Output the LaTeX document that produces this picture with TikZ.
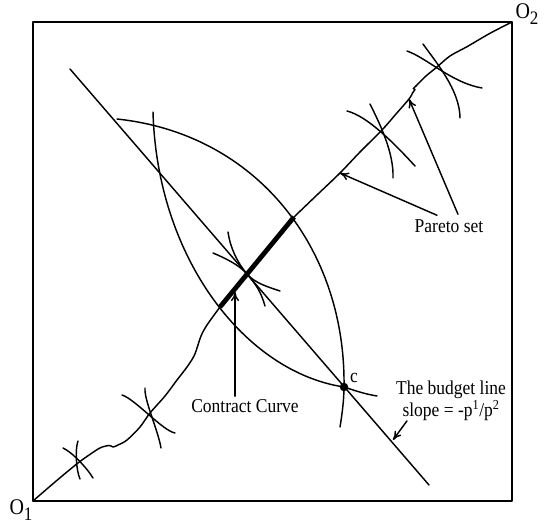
\documentclass[tikz,border=0pt]{standalone}
\usepackage{fontspec}
\setmainfont{Liberation Serif}
\usetikzlibrary{arrows.meta}
\newcommand{\osub}[1]{{\fontsize{20}{20}\selectfont O}\raisebox{-5pt}{\fontsize{17}{17}\selectfont #1}}
\begin{document}
\begin{tikzpicture}[x=1pt,y=-1pt, line cap=round, line join=round,
  curve/.style={line width=1.45pt},
  frame/.style={line width=1.6pt},
  thickline/.style={line width=4.8pt, line cap=butt},
  arr/.style={line width=1.45pt, -{To[length=9pt,width=8pt]}},
  lbl/.style={font=\fontsize{17.5}{16.5}\selectfont, inner sep=0pt, yscale=1.12, transform shape},
  dot/.style={circle, fill=black, inner sep=0pt, minimum size=8.5pt}]
\useasboundingbox (0,0) rectangle (544,525);
% box
\coordinate (O1) at (33,501);
\coordinate (O2) at (512,22);
\draw[frame] (O1) rectangle (O2);
\node[lbl] (o1lab) at (21,510) {\osub{1}};
\node[lbl] (o2lab) at (527,14) {\osub{2}};
% budget line
\coordinate (b1) at (70,69);
\coordinate (b2) at (429,485);
\draw[curve] (b1) -- (b2);
% lens
\node[dot] (c) at (344,387) {};
\draw[curve] (117,119) .. controls (258,134) and (346,250) .. (c.center)
  .. controls (344,400) and (342,415) .. (340,427);
\draw[curve] (153,112) .. controls (157,258) and (245,372) .. (c.center)
  .. controls (356,391) and (365,394) .. (377,396);
\node[lbl] (clab) at (354,378) {c};
% Pareto set
\coordinate (k1) at (220,307);
\coordinate (k2) at (294,217);
\draw[curve] plot[smooth, tension=0.55] coordinates {(33,501) (55,482) (78,463) (95,451) (101,447.5) (106,446) (110,445.5) (113,447) (118,445) (127,440) (140,427) (150,413) (165,396) (177,380) (187,367) (194,356) (198,345) (201,336) (207,325) (220,307)};
\draw[thickline] (k1) -- (k2);
\draw[curve] plot[smooth, tension=0.55] coordinates {(294,217) (318,194) (340,173) (360,152) (382,130) (396,114) (409,99) (412.5,93)};
\draw[curve] (412.5,93) -- (415,89.5) -- (413.3,88.5) -- (416,86);
\draw[curve] plot[smooth, tension=0.55] coordinates {(416,86) (426,76) (437,67) (450,56) (467,46.7) (490,33.3) (512,22)};
% indifference curves
\draw[curve] (63,448) .. controls (72,452) and (87,468) .. (93,478);
\draw[curve] (78,441) .. controls (75,449) and (76,470) .. (80,479);
\draw[curve] (122,395) .. controls (135,399) and (163,431) .. (175,433);
\draw[curve] (145,388) .. controls (144,400) and (158,430) .. (161,448);
\draw[curve] (347,111) .. controls (367,116) and (393,142) .. (415,166);
\draw[curve] (370,104) .. controls (380,124) and (394,153) .. (393,178);
\draw[curve] (407,51) .. controls (427,58) and (452,83) .. (482,88);
\draw[curve] (423,44) .. controls (435,61) and (460,90) .. (460,118);
% tangency at T
\coordinate (T) at (247,274);
\draw[curve] (228,232) .. controls (230,247) and (237.2,262.6) .. (T)
  .. controls (254.8,283.1) and (268,287) .. (280,291);
\draw[curve] (213,253) .. controls (225,258) and (239.2,264.9) .. (T)
  .. controls (256.2,284.6) and (261,292) .. (265,306);
% labels and arrows
\coordinate (ptip1) at (340,173);
\coordinate (ptip2) at (409,99);
\coordinate (ctip) at (235,292);
\coordinate (btip) at (393,440);
\node[lbl] (pareto) at (449,226) {Pareto set};
\draw[arr] ([xshift=-12pt,yshift=4pt]pareto.north) -- (ptip1);
\draw[arr] ([xshift=9pt,yshift=5pt]pareto.north) -- (ptip2);
\node[lbl] (contract) at (245,406) {Contract Curve};
\draw[arr] ([xshift=-10pt,yshift=3pt]contract.north) -- (ctip);
\node[lbl, align=center] (budget) at (451,401) {The budget line\\slope = -p\textsuperscript{1}/p\textsuperscript{2}};
\draw[arr] ([xshift=-44pt,yshift=0pt]budget.south) -- (btip);
\end{tikzpicture}
\end{document}
